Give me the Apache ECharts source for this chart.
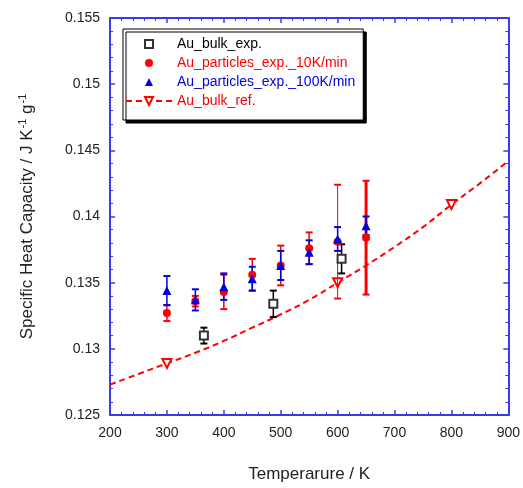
<!DOCTYPE html>
<html>
<head>
<meta charset="utf-8">
<script src="https://cdn.jsdelivr.net/npm/echarts@6/dist/echarts.min.js"></script>
<style>
  html, body { margin: 0; padding: 0; background: #fff; }
  #chart { width: 523px; height: 488px; }
</style>
</head>
<body>
<div id="chart"></div>
<script>
// Au_bulk_exp.
var bulkT = [365, 487, 607];
var bulkCp = [0.1310, 0.1334, 0.1368];
var bulkErr = [0.0006, 0.0010, 0.0011];

// Au_particles_exp._10K/min
var p10T = [300, 350, 400, 450, 500, 550, 600, 650];
var p10Cp = [0.1327, 0.1336, 0.1343, 0.1356, 0.1363, 0.1376, 0.1381, 0.1384];
var p10Err = [0.0006, 0.0004, 0.0013, 0.0012, 0.0015, 0.0012, 0.0043, 0.0043];

// Au_particles_exp._100K/min
var p100T = [300, 350, 400, 450, 500, 550, 600, 650];
var p100Cp = [0.1344, 0.1337, 0.1347, 0.1353, 0.1363, 0.1373, 0.1383, 0.1393];
var p100Err = [0.0011, 0.0008, 0.0010, 0.0009, 0.0011, 0.0009, 0.0009, 0.0007];

// Au_bulk_ref. (curve, markers only at refMarkT)
var refT = [200, 250, 300, 350, 400, 450, 500, 550, 600, 650, 700, 750, 800, 850, 900];
var refCp = [0.1273, 0.1281, 0.1289, 0.1297, 0.1306, 0.1316, 0.1326, 0.1337, 0.1350, 0.1363, 0.1377, 0.1392, 0.1409, 0.1425, 0.1442];
var refMarkT = [300, 600, 800];

var xTicks = [200, 900, 100];
var yTicks = [0.125, 0.155, 0.005];

var RED = '#ff0000';
var BLUE = '#0000dd';
var AXIS = '#3a3ae8';
var FONT = 'Liberation Sans';

function pts(T, v) {
  return T.map(function (t, i) { return [t, v[i]]; });
}

// vertical error bars with small caps
function errorBars(color, T, v, e, width) {
  return {
    type: 'custom',
    name: 'err',
    silent: true,
    z: 2,
    data: T.map(function (t, i) { return [t, v[i] - e[i], v[i] + e[i]]; }),
    encode: { x: 0, y: [1, 2] },
    renderItem: function (params, api) {
      var lo = api.coord([api.value(0), api.value(1)]);
      var hi = api.coord([api.value(0), api.value(2)]);
      var lw = typeof width === 'function' ? width(api.value(0)) : width;
      var c = 3.5;
      var st = { stroke: color, lineWidth: lw };
      return {
        type: 'group',
        children: [
          { type: 'line', shape: { x1: lo[0], y1: lo[1], x2: hi[0], y2: hi[1] }, style: st },
          { type: 'line', shape: { x1: lo[0] - c, y1: lo[1], x2: lo[0] + c, y2: lo[1] }, style: { stroke: color, lineWidth: 2 } },
          { type: 'line', shape: { x1: hi[0] - c, y1: hi[1], x2: hi[0] + c, y2: hi[1] }, style: { stroke: color, lineWidth: 2 } }
        ]
      };
    }
  };
}

function axisCommon(showLabel) {
  return {
    axisLine: { show: true, onZero: false, lineStyle: { color: AXIS, width: 2 } },
    axisTick: { show: true, inside: true, length: 5, lineStyle: { color: AXIS, width: 1.5 } },
    minorTick: { show: true, splitNumber: 5, length: 3, lineStyle: { color: AXIS, width: 1 } },
    splitLine: { show: false },
    axisLabel: { show: showLabel, color: '#222', fontFamily: FONT, fontSize: 14 }
  };
}

var refData = pts(refT, refCp).map(function (p) {
  return refMarkT.indexOf(p[0]) >= 0 ? { value: p } : { value: p, symbol: 'none' };
});

var option = {
  backgroundColor: '#fff',
  animation: false,
  grid: { left: 110, top: 18, right: 12, bottom: 71 },
  xAxis: [
    Object.assign({
      type: 'value', min: xTicks[0], max: xTicks[1], interval: xTicks[2],
      name: 'Temperarure / K', nameLocation: 'middle', nameGap: 51,
      nameTextStyle: { fontFamily: FONT, fontSize: 17, color: '#222' }
    }, axisCommon(true), { axisLabel: { color: '#222', fontFamily: FONT, fontSize: 14, margin: 11 } }),
    Object.assign({
      type: 'value', min: xTicks[0], max: xTicks[1], interval: xTicks[2], position: 'top'
    }, axisCommon(false))
  ],
  yAxis: [
    Object.assign({
      type: 'value', min: yTicks[0], max: yTicks[1], interval: yTicks[2],
      name: '{m|Specific Heat Capacity / J K}{s|-1}{m| g}{s|-1}',
      nameLocation: 'middle', nameGap: 73, nameRotate: 90,
      nameTextStyle: {
        rich: {
          m: { fontFamily: FONT, fontSize: 17, color: '#222', lineHeight: 20 },
          s: { fontFamily: FONT, fontSize: 11, color: '#222', lineHeight: 20, verticalAlign: 'top', padding: [0, 0, 8, 1] }
        }
      }
    }, axisCommon(true), { axisLabel: { color: '#222', fontFamily: FONT, fontSize: 14, margin: 10 } }),
    Object.assign({
      type: 'value', min: yTicks[0], max: yTicks[1], interval: yTicks[2], position: 'right'
    }, axisCommon(false))
  ],
  legend: {
    orient: 'vertical',
    left: 123,
    top: 29,
    padding: [8, 8, 12, 2],
    itemWidth: 46,
    itemHeight: 10,
    itemGap: 5,
    backgroundColor: '#fff',
    borderColor: '#000',
    borderWidth: 1,
    shadowColor: '#000',
    shadowBlur: 0,
    shadowOffsetX: 3,
    shadowOffsetY: 3,
    textStyle: { fontFamily: FONT, fontSize: 14, lineHeight: 14 },
    data: [
      { name: 'Au_bulk_exp.', textStyle: { color: '#000' } },
      { name: 'Au_particles_exp._10K/min', textStyle: { color: RED } },
      { name: 'Au_particles_exp._100K/min', textStyle: { color: BLUE } },
      { name: 'Au_bulk_ref.', textStyle: { color: RED } }
    ]
  },
  series: [
    {
      name: 'Au_bulk_ref.',
      type: 'line',
      smooth: true,
      data: refData,
      symbol: 'emptyTriangle',
      symbolRotate: 180,
      symbolSize: 9,
      z: 1,
      lineStyle: { color: RED, width: 2, type: [6, 4] },
      itemStyle: { color: RED, borderWidth: 1.2 }
    },
    errorBars('#000', bulkT, bulkCp, bulkErr, 1.5),
    errorBars(RED, p10T, p10Cp, p10Err, function (t) { return t === 650 ? 3 : (t === 600 ? 1 : 1.5); }),
    errorBars(BLUE, p100T, p100Cp, p100Err, 1.5),
    {
      name: 'Au_bulk_exp.',
      type: 'line',
      data: pts(bulkT, bulkCp),
      symbol: 'emptyRect',
      symbolSize: 8,
      z: 3,
      lineStyle: { width: 0, opacity: 0 },
      itemStyle: { color: '#333', borderWidth: 1.5 }
    },
    {
      name: 'Au_particles_exp._10K/min',
      type: 'line',
      data: pts(p10T, p10Cp),
      symbol: 'circle',
      symbolSize: 8,
      z: 3,
      lineStyle: { width: 0, opacity: 0 },
      itemStyle: { color: RED }
    },
    {
      name: 'Au_particles_exp._100K/min',
      type: 'line',
      data: pts(p100T, p100Cp),
      symbol: 'triangle',
      symbolSize: 9,
      z: 4,
      lineStyle: { width: 0, opacity: 0 },
      itemStyle: { color: BLUE }
    }
  ]
};

var chart = echarts.init(document.getElementById('chart'), null, { renderer: 'canvas' });
chart.setOption(option);
</script>
</body>
</html>
